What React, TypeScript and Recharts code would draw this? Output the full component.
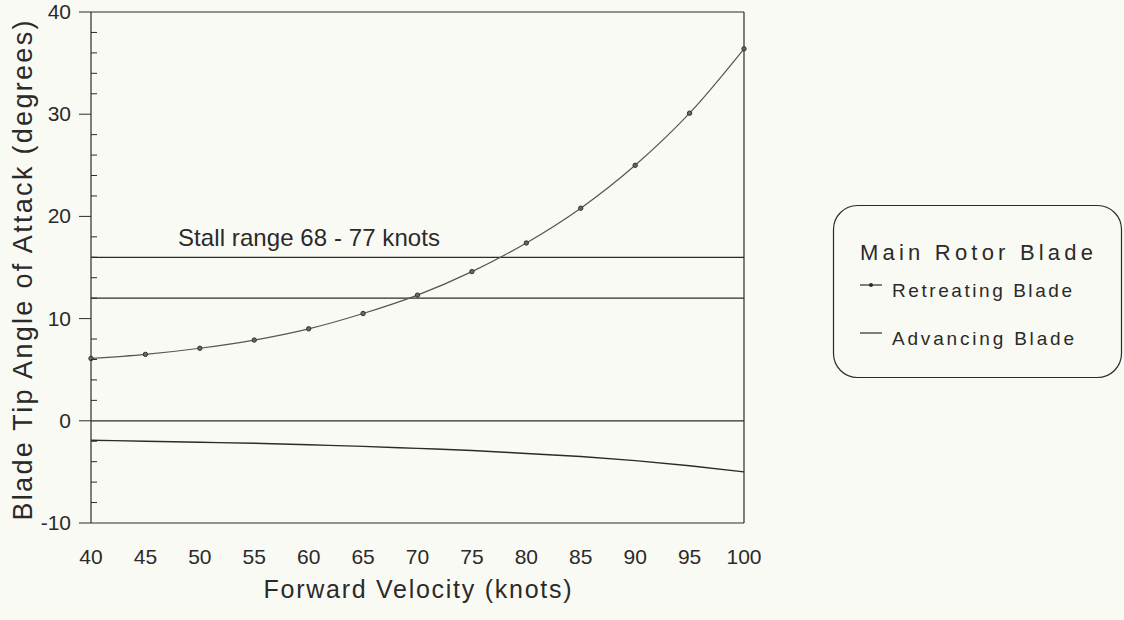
import React from 'react';
import {
  ComposedChart,
  Line,
  XAxis,
  YAxis,
  ReferenceLine
} from 'recharts';

const velocity = [40, 45, 50, 55, 60, 65, 70, 75, 80, 85, 90, 95, 100];
const retreating = [6.1, 6.5, 7.1, 7.9, 9.0, 10.5, 12.3, 14.6, 17.4, 20.8, 25.0, 30.1, 36.4];
const advancing = [-1.9, -2.0, -2.1, -2.2, -2.35, -2.5, -2.7, -2.9, -3.2, -3.5, -3.9, -4.4, -5.0];
const xTicks = [40, 45, 50, 55, 60, 65, 70, 75, 80, 85, 90, 95, 100];
const yTicks = [-10, -8, -6, -4, -2, 0, 2, 4, 6, 8, 10, 12, 14, 16, 18, 20, 22, 24, 26, 28, 30, 32, 34, 36, 38, 40];
const stallLow = 12;
const stallHigh = 16;
const stallLabel = 'Stall range 68 - 77 knots';
const legendTitle = 'Main Rotor Blade';
const seriesNames = ['Retreating Blade', 'Advancing Blade'];

const FONT = '"Liberation Sans", Arial, sans-serif';
const INK = '#2a2a2a';

const chartData = velocity.map((v, i) => ({
  v,
  retreating: retreating[i],
  advancing: advancing[i],
}));

const YTick = ({ x, y, payload }: any) => {
  const major = payload.value % 10 === 0;
  if (!major) {
    return <line x1={x} x2={x + 6} y1={y} y2={y} stroke={INK} strokeWidth={1} />;
  }
  return (
    <g>
      <line x1={x - 12} x2={x} y1={y} y2={y} stroke={INK} strokeWidth={1} />
      <text x={x - 20} y={y} dy={7} textAnchor="end" fontSize={21} fill={INK} fontFamily={FONT}>
        {payload.value}
      </text>
    </g>
  );
};

const XTick = ({ x, y, payload }: any) => (
  <text x={x} y={y} dy={41} textAnchor="middle" fontSize={21} fill={INK} fontFamily={FONT}>
    {payload.value}
  </text>
);

const YLabel = ({ viewBox }: any) => {
  const cx = 32;
  const cy = viewBox.y + viewBox.height / 2 + 3;
  return (
    <text
      x={cx}
      y={cy}
      transform={`rotate(-90, ${cx}, ${cy})`}
      textAnchor="middle"
      fontSize={27}
      textLength={500}
      lengthAdjust="spacing"
      fill={INK}
      fontFamily={FONT}
    >
      Blade Tip Angle of Attack (degrees)
    </text>
  );
};

const XLabel = ({ viewBox }: any) => (
  <text
    x={viewBox.x + viewBox.width / 2}
    y={598}
    textAnchor="middle"
    fontSize={25}
    textLength={308}
    lengthAdjust="spacing"
    fill={INK}
    fontFamily={FONT}
  >
    Forward Velocity (knots)
  </text>
);

const LegendBox = () => (
  <svg style={{ position: 'absolute', left: 0, top: 0 }} width={1124} height={620}>
    <rect x={833.5} y={205.5} width={288} height={172} rx={24} fill="none" stroke={INK} strokeWidth={1.2} />
    <text x={860} y={260} fontSize={22} textLength={233} lengthAdjust="spacing" fill={INK} fontFamily={FONT}>
      {legendTitle}
    </text>
    <line x1={860} x2={882} y1={285} y2={285} stroke={INK} strokeWidth={1.2} />
    <circle cx={871} cy={285} r={2} fill={INK} />
    <text x={892} y={297} fontSize={19} textLength={180} lengthAdjust="spacing" fill={INK} fontFamily={FONT}>
      {seriesNames[0]}
    </text>
    <line x1={860} x2={882} y1={333} y2={333} stroke={INK} strokeWidth={1.2} />
    <text x={892} y={345} fontSize={19} textLength={182} lengthAdjust="spacing" fill={INK} fontFamily={FONT}>
      {seriesNames[1]}
    </text>
  </svg>
);

export default function App() {
  return (
    <div style={{ position: 'absolute', left: 0, top: 0, width: 1124, height: 620, background: '#fafaf4' }}>
      <ComposedChart
        width={1124}
        height={620}
        data={chartData}
        margin={{ top: 12, right: 380, left: 0, bottom: 0 }}
      >
        <XAxis
          dataKey="v"
          type="number"
          domain={[40, 100]}
          ticks={xTicks}
          height={97}
          tick={<XTick />}
          tickLine={false}
          tickSize={0}
          tickMargin={0}
          axisLine={{ stroke: INK, strokeWidth: 1.2 }}
          label={<XLabel />}
        />
        <YAxis
          type="number"
          domain={[-10, 40]}
          ticks={yTicks}
          interval={0}
          width={91}
          tick={<YTick />}
          tickLine={false}
          tickSize={0}
          tickMargin={0}
          axisLine={{ stroke: INK, strokeWidth: 1.2 }}
          label={<YLabel />}
        />
        <ReferenceLine y={40} stroke={INK} strokeWidth={1.2} />
        <ReferenceLine x={100} stroke={INK} strokeWidth={1.2} />
        <ReferenceLine y={0} stroke={INK} strokeWidth={1.2} />
        <ReferenceLine y={stallLow} stroke={INK} strokeWidth={1.2} />
        <ReferenceLine
          y={stallHigh}
          stroke={INK}
          strokeWidth={1.2}
          label={({ viewBox }: any) => (
            <text
              x={viewBox.x + 87}
              y={viewBox.y - 11}
              fontSize={24}
              textLength={262}
              lengthAdjust="spacing"
              fill={INK}
              fontFamily={FONT}
            >
              {stallLabel}
            </text>
          )}
        />
        <Line
          type="monotone"
          dataKey="advancing"
          stroke={INK}
          strokeWidth={1.4}
          dot={false}
          isAnimationActive={false}
        />
        <Line
          type="monotone"
          dataKey="retreating"
          stroke="#555"
          strokeWidth={1.2}
          dot={{ r: 2.2, fill: '#666', stroke: '#333', strokeWidth: 1 }}
          isAnimationActive={false}
        />
      </ComposedChart>
      <LegendBox />
    </div>
  );
}
